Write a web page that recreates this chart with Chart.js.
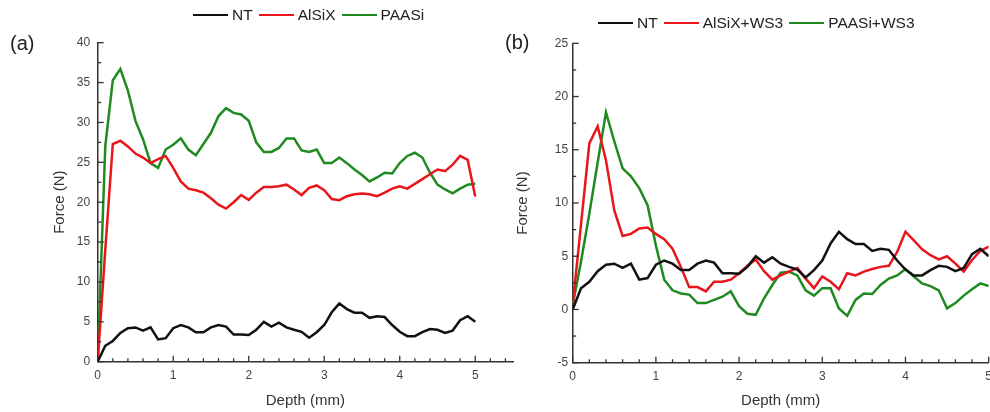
<!DOCTYPE html>
<html>
<head>
<meta charset="utf-8">
<script src="https://cdn.jsdelivr.net/npm/chart.js@4.4.1/dist/chart.umd.min.js"></script>
<style>
  html, body { margin: 0; padding: 0; background: #fff; overflow: hidden; }
  body { width: 990px; height: 412px; position: relative; font-family: "Liberation Sans", Arial, sans-serif; }
  canvas { position: absolute; top: 0; }
  #chartA { left: 0; }
  #chartB { left: 495px; }
  .panel { position: absolute; font-size: 20px; line-height: 23px; color: #222; }
  .legend { position: absolute; display: flex; align-items: center; font-size: 15.5px; line-height: 18px; color: #222; white-space: nowrap; }
  .legend .item { display: flex; align-items: center; margin-right: 6px; }
  .legend .swatch { display: inline-block; width: 35px; height: 2.5px; margin-right: 4px; }
</style>
</head>
<body>
<canvas id="chartA" width="520" height="412"></canvas>
<canvas id="chartB" width="504" height="412"></canvas>

<div class="panel" style="left:10px; top:32px;">(a)</div>
<div class="panel" style="left:505px; top:31px;">(b)</div>

<div class="legend" id="legendA" style="left:193px; top:6px;"></div>
<div class="legend" id="legendB" style="left:598px; top:14px;"></div>

<script>
// Depth (mm) sampled every 0.1 mm
const depth = [0, 0.1, 0.2, 0.3, 0.4, 0.5, 0.6, 0.7, 0.8, 0.9,
               1.0, 1.1, 1.2, 1.3, 1.4, 1.5, 1.6, 1.7, 1.8, 1.9,
               2.0, 2.1, 2.2, 2.3, 2.4, 2.5, 2.6, 2.7, 2.8, 2.9,
               3.0, 3.1, 3.2, 3.3, 3.4, 3.5, 3.6, 3.7, 3.8, 3.9,
               4.0, 4.1, 4.2, 4.3, 4.4, 4.5, 4.6, 4.7, 4.8, 4.9, 5.0];

// Force (N)
const forceNT = [0, 2.0, 2.6, 3.6, 4.2, 4.3, 3.9, 4.3, 2.8, 2.95,
                 4.2, 4.6, 4.3, 3.7, 3.7, 4.3, 4.6, 4.4, 3.4, 3.4,
                 3.35, 4.0, 5.0, 4.4, 4.9, 4.3, 4.0, 3.75, 3.0, 3.7,
                 4.6, 6.2, 7.3, 6.6, 6.15, 6.15, 5.5, 5.7, 5.6, 4.6,
                 3.75, 3.2, 3.2, 3.7, 4.1, 4.0, 3.6, 3.9, 5.2, 5.7, 5.0];

const forceAlSiX = [0, 14, 27.3, 27.7, 27.0, 26.1, 25.6, 24.9, 25.4, 25.8,
                    24.3, 22.6, 21.7, 21.5, 21.2, 20.5, 19.7, 19.2, 20.0, 20.9,
                    20.3, 21.2, 21.9, 21.9, 22.0, 22.2, 21.6, 20.9, 21.8, 22.1,
                    21.5, 20.4, 20.25, 20.75, 21.0, 21.1, 21.0, 20.75, 21.2, 21.7,
                    22.0, 21.7, 22.3, 22.9, 23.5, 24.1, 23.9, 24.7, 25.8, 25.3, 20.7];

const forcePAASi = [0, 27.0, 35.3, 36.7, 34.0, 30.2, 27.9, 24.9, 24.3, 26.6,
                    27.2, 28.0, 26.6, 25.9, 27.3, 28.7, 30.8, 31.8, 31.2, 31.0,
                    30.2, 27.5, 26.3, 26.3, 26.8, 28.0, 28.0, 26.5, 26.3, 26.6,
                    24.9, 24.9, 25.6, 24.9, 24.1, 23.4, 22.6, 23.1, 23.7, 23.6,
                    24.9, 25.8, 26.2, 25.6, 23.7, 22.2, 21.6, 21.1, 21.7, 22.2, 22.3];

const forceAlSiXWS3 = [0.4, 8.0, 15.6, 17.2, 14.0, 9.3, 6.9, 7.1, 7.6, 7.7,
                       7.1, 6.6, 5.7, 4.0, 2.1, 2.1, 1.7, 2.6, 2.6, 2.8,
                       3.4, 4.1, 4.7, 3.6, 2.8, 3.2, 3.55, 3.9, 2.9, 2.0,
                       3.1, 2.6, 1.9, 3.4, 3.2, 3.55, 3.8, 4.0, 4.1, 5.4,
                       7.3, 6.5, 5.65, 5.1, 4.7, 5.0, 4.3, 3.55, 4.65, 5.5, 5.9];

const forcePAASiWS3 = [0.4, 4.5, 9.0, 13.8, 18.5, 15.8, 13.25, 12.5, 11.4, 9.8,
                       6.0, 2.8, 1.8, 1.5, 1.4, 0.6, 0.6, 0.9, 1.2, 1.7,
                       0.3, -0.4, -0.5, 1.05, 2.3, 3.45, 3.55, 3.2, 1.8, 1.3,
                       2.0, 2.0, 0.1, -0.6, 0.9, 1.5, 1.45, 2.3, 2.9, 3.2,
                       3.8, 3.1, 2.45, 2.2, 1.8, 0.1, 0.6, 1.3, 1.9, 2.45, 2.2];

const labelsA = ['NT', 'AlSiX', 'PAASi'];
const labelsB = ['NT', 'AlSiX+WS3', 'PAASi+WS3'];
const colors = ['#111111', '#e8161b', '#1f8a1f'];

const FONT = '"Liberation Sans", Arial, sans-serif';

// inward major + minor tick marks, placed through the chart's own scales
const innerTicks = {
    id: 'innerTicks',
    afterDatasetsDraw(chart, args, opts) {
        const { ctx, chartArea } = chart;
        ctx.save();
        ctx.strokeStyle = '#333';
        ctx.lineWidth = 1.3;
        const drawAxis = (scale, minor, major, horizontal) => {
            const n = Math.floor((scale.max - scale.min) / minor + 1e-6);
            for (let k = 0; k <= n; k++) {
                const v = scale.min + k * minor;
                const isMajor = Math.abs(v / major - Math.round(v / major)) < 1e-6;
                const len = isMajor ? 6 : 3.5;
                const p = scale.getPixelForValue(v);
                ctx.beginPath();
                if (horizontal) {
                    ctx.moveTo(p, chartArea.bottom);
                    ctx.lineTo(p, chartArea.bottom - len);
                } else {
                    ctx.moveTo(chartArea.left, p);
                    ctx.lineTo(chartArea.left + len, p);
                }
                ctx.stroke();
            }
        };
        drawAxis(chart.scales.x, opts.xMinor, 1, true);
        drawAxis(chart.scales.y, opts.yMinor, 5, false);
        ctx.restore();
    }
};

function toPoints(values) {
    return depth.map((d, i) => ({ x: d, y: values[i] }));
}

function makeChart(id, labels, series, cfg) {
    const ctx = document.getElementById(id).getContext('2d');
    return new Chart(ctx, {
        type: 'line',
        data: {
            datasets: series.map((s, i) => ({
                label: labels[i],
                data: toPoints(s),
                borderColor: colors[i],
                borderWidth: 2.5,
                pointRadius: 0,
                tension: 0,
                fill: false
            }))
        },
        options: {
            responsive: false,
            animation: false,
            layout: { padding: cfg.padding },
            plugins: {
                legend: { display: false },
                tooltip: { enabled: false },
                innerTicks: { xMinor: 0.2, yMinor: 2.5 }
            },
            scales: {
                x: {
                    type: 'linear',
                    min: 0,
                    max: cfg.xMax,
                    grid: { display: false, drawTicks: false },
                    border: { display: true, color: '#333', width: 1.5 },
                    ticks: {
                        stepSize: 1,
                        includeBounds: false,
                        padding: 7,
                        color: '#444',
                        font: { family: FONT, size: 12 },
                        maxRotation: 0
                    },
                    title: {
                        display: true,
                        text: 'Depth (mm)',
                        color: '#333',
                        font: { family: FONT, size: 15 },
                        padding: { top: 0, bottom: 2 }
                    },
                    afterFit: scale => { scale.height = cfg.xHeight; }
                },
                y: {
                    min: cfg.yMin,
                    max: cfg.yMax,
                    grid: { display: false, drawTicks: false },
                    border: { display: true, color: '#333', width: 1.5 },
                    ticks: {
                        stepSize: 5,
                        padding: cfg.yPad,
                        color: '#444',
                        font: { family: FONT, size: 12 }
                    },
                    title: {
                        display: true,
                        text: 'Force (N)',
                        color: '#333',
                        font: { family: FONT, size: 15 },
                        padding: { top: cfg.yTitlePad, bottom: 0 }
                    },
                    afterFit: scale => { scale.width = cfg.yWidth; }
                }
            }
        },
        plugins: [innerTicks]
    });
}

function buildLegend(id, labels) {
    const box = document.getElementById(id);
    labels.forEach((name, i) => {
        const item = document.createElement('span');
        item.className = 'item';
        item.innerHTML = `<span class="swatch" style="background:${colors[i]}"></span><span>${name}</span>`;
        box.appendChild(item);
    });
}

document.addEventListener('DOMContentLoaded', () => {
    // 1. Panel (a)
    makeChart('chartA', labelsA, [forceNT, forceAlSiX, forcePAASi], {
        xMax: 5.5, yMin: 0, yMax: 40,
        padding: { left: 0, top: 42.7, right: 7, bottom: 0 },
        yWidth: 97.7, xHeight: 50.3, yPad: 7.5, yTitlePad: 51
    });

    // 2. Panel (b)
    makeChart('chartB', labelsB, [forceNT, forceAlSiXWS3, forcePAASiWS3], {
        xMax: 5, yMin: -5, yMax: 25,
        padding: { left: 0, top: 43.3, right: 7, bottom: 0 },
        yWidth: 77.7, xHeight: 49.3, yPad: 4.5, yTitlePad: 18.5
    });

    // 3. Legends
    buildLegend('legendA', labelsA);
    buildLegend('legendB', labelsB);
});
</script>
</body>
</html>
